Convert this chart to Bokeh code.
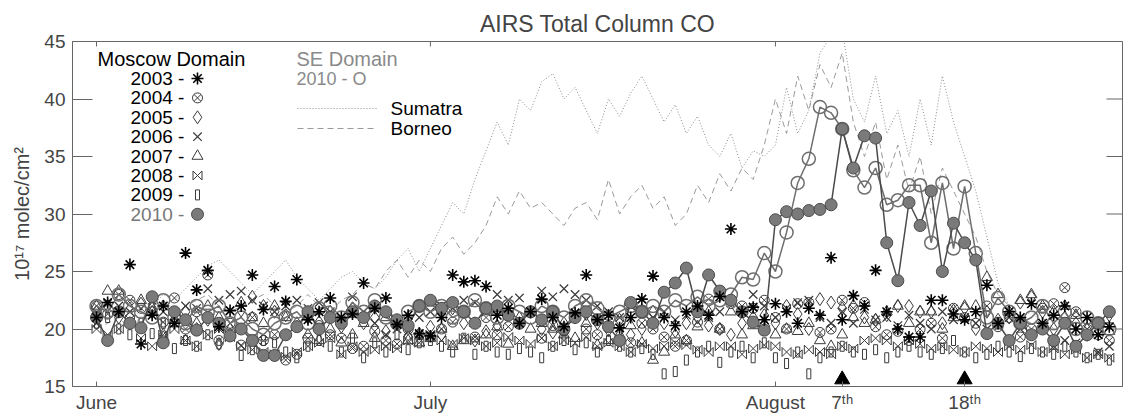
from bokeh.plotting import figure
from bokeh.models import Range1d, FixedTicker
from bokeh.embed import file_html
from bokeh.resources import INLINE
from bokeh.core.properties import value

FONT = "Liberation Sans"

# day index: 1 = June 1, 31 = July 1, 62 = August 1, 92 = August 31
days = list(range(1, 93))

moscow_2003 = [21.0, 22.3, 21.5, 25.6, 18.7, 21.2, 22.0, 20.5, 26.6, 23.4,
               25.1, 20.2, 21.6, 22.0, 24.7, 21.7, 23.7, 22.4, 24.3, 20.8,
               21.5, 22.7, 21.0, 21.3, 24.0, 21.8, 22.7, 20.4, 21.2, 19.6,
               19.4, 21.0, 24.7, 24.1, 24.2, 23.7, 21.2, 21.8, 20.5, 21.5,
               22.6, 21.0, 20.2, 21.4, 24.7, 20.8, 21.2, 20.1, 21.0, 22.6,
               24.6, 21.0, 20.3, 21.5, 22.0, 21.2, 22.8, 28.7, 21.5, 21.9,
               20.8, 22.2, 21.5, 20.5, 21.8, 21.2, 26.2, 20.8, 22.9, 22.0,
               25.1, 21.5, 20.0, 19.3, 19.3, 22.5, 22.5, 21.3, 20.8, 21.5,
               23.8, 20.5, 21.5, 21.0, 22.2, 20.5, 21.2, 22.0, 20.0, 21.0,
               19.5, 20.2]
moscow_2004 = [22.0, 21.3, 23.0, 22.5, 21.8, 21.5, 20.6, 22.7, 20.0, 21.5,
               24.7, 19.0, 20.5, 18.6, 21.0, 19.0, 19.5, 17.3, 17.8, 19.2,
               20.3, 19.5, 19.2, 18.3, 18.5, 19.8, 19.0, 18.7, 20.0, 19.5,
               19.3, 20.0, 20.6, 21.5, 19.3, 21.0, 19.5, 20.2, 20.5, 21.4,
               19.2, 20.3, 19.8, 21.0, 20.0, 19.5, 21.2, 19.0, 18.8, 20.5,
               20.0, 19.3, 18.5, 19.0, 20.6, 22.6, 20.0, 22.2, 22.0, 21.8,
               22.5, 21.0, 20.0, 22.2, 22.3, 19.7, 20.0, 22.5, 21.8, 22.3,
               20.2, 19.5, 19.8, 19.0, 20.0, 20.5, 19.2, 21.8, 21.0, 20.5,
               22.0, 20.2, 21.0, 19.3, 20.0, 21.8, 22.2, 23.6, 21.5, 20.0,
               19.5, 19.0]
moscow_2005 = [21.5, 22.0, 21.0, 20.5, 22.2, 21.8, 19.5, 20.8, 21.5, 20.0,
               20.8, 18.7, 19.5, 21.6, 22.8, 22.0, 21.5, 21.2, 20.5, 21.0,
               20.6, 21.5, 20.2, 21.8, 20.5, 21.0, 19.8, 20.4, 19.3, 19.6,
               20.2, 19.5, 21.8, 20.5, 19.0, 19.8, 20.3, 21.2, 20.5, 21.5,
               20.0, 19.7, 20.5, 21.0, 21.3, 20.5, 19.9, 20.8, 19.5, 20.0,
               21.5, 20.5, 19.8, 20.5, 21.0, 20.3, 20.0, 19.5, 20.5, 21.0,
               21.2, 20.5, 22.0, 21.3, 20.0, 22.6, 22.3, 21.8, 22.0, 21.0,
               20.8, 21.2, 22.0, 22.0, 21.5, 21.5, 20.5, 21.6, 21.8, 20.0,
               21.5, 20.8, 21.0, 22.3, 22.8, 21.5, 20.0, 21.0, 20.5, 19.5,
               20.5, 21.2]
moscow_2006 = [20.5, 22.2, 22.0, 21.5, 20.0, 22.5, 21.5, 21.0, 22.0, 21.8,
               23.5, 22.5, 23.0, 23.3, 22.5, 22.0, 21.5, 22.0, 22.5, 21.8,
               22.3, 21.5, 20.8, 22.8, 21.5, 20.5, 19.5, 20.0, 19.8, 21.0,
               21.5, 22.0, 21.8, 22.5, 22.3, 21.5, 23.0, 22.5, 22.7, 21.5,
               23.3, 22.8, 23.5, 23.0, 22.5, 22.0, 21.5, 21.0, 22.0, 21.5,
               21.0, 21.5, 20.8, 21.2, 22.0, 21.0, 21.5, 22.5, 21.5, 23.0,
               22.0, 21.0, 21.8, 22.3, 22.5, 21.0, 20.5, 21.5, 20.5, 21.7,
               20.8, 21.0, 20.3, 21.2, 20.5, 20.0, 21.5, 20.8, 21.0, 20.5,
               20.0, 20.5, 21.0, 20.0, 19.5, 20.3, 18.5, 19.0, 18.8, 19.5,
               18.0, 18.5]
moscow_2007 = [22.0, 23.3, 23.3, 21.8, 22.5, 21.5, 19.3, 20.5, 19.0, 20.5,
               22.0, 21.0, 20.0, 22.3, 21.0, 20.5, 22.0, 21.0, 20.2, 19.5,
               19.0, 20.0, 18.8, 19.5, 20.5, 19.2, 21.0, 20.5, 19.0, 18.8,
               19.2, 20.0, 18.5, 19.0, 20.5, 19.5, 20.2, 18.7, 21.0, 20.0,
               20.5, 20.0, 19.5, 19.2, 20.5, 18.6, 19.0, 19.5, 20.3, 18.8,
               17.3, 18.0, 19.5, 19.0, 20.2, 21.5, 20.0, 21.5, 19.5, 20.3,
               20.5, 19.5, 20.0, 19.8, 20.5, 19.0, 18.5, 19.5, 21.0, 20.5,
               20.8, 21.5, 22.0, 20.5, 21.5, 21.5, 20.0, 21.0, 22.0, 22.0,
               24.5, 23.0, 21.5, 22.5, 23.0, 22.0, 21.5, 22.0, 21.2, 20.0,
               20.5, 19.8]
moscow_2008 = [20.0, 19.5, 20.0, 20.8, 19.2, 18.5, 19.5, 20.0, 19.0, 18.5,
               19.5, 20.0, 19.3, 18.5, 18.2, 18.0, 17.8, 17.6, 18.0, 18.5,
               18.8, 19.2, 17.8, 18.5, 18.0, 18.2, 18.5, 18.3, 19.0, 18.8,
               19.5, 19.0, 18.7, 19.2, 19.0, 18.5, 18.8, 19.3, 19.0, 18.7,
               19.2, 18.5, 19.0, 18.8, 19.3, 18.5, 18.8, 18.5, 18.0, 18.7,
               18.3, 18.5, 18.8, 18.6, 18.2, 18.0, 18.5, 18.5, 17.8, 18.3,
               18.6, 18.5, 18.0, 17.8, 18.2, 18.0, 17.8, 18.5, 18.3, 19.0,
               19.2, 19.0, 18.5, 19.0, 18.7, 18.3, 18.5, 18.2, 18.0, 18.5,
               18.3, 18.0, 18.5, 18.2, 18.6, 18.0, 18.3, 17.8, 18.2, 17.5,
               17.8, 17.5]
moscow_2009 = [20.5, 21.0, 20.0, 19.5, 20.5, 19.6, 20.5, 18.3, 19.0, 18.5,
               19.5, 18.7, 19.5, 17.7, 18.2, 19.0, 18.8, 18.0, 17.5, 18.5,
               19.0, 18.5, 18.0, 19.2, 17.5, 18.8, 18.0, 19.5, 18.2, 18.8,
               19.0, 18.5, 18.0, 19.2, 17.8, 18.5, 18.0, 17.8, 18.3, 18.0,
               17.5, 18.5, 19.0, 18.2, 18.8, 18.0, 19.0, 18.5, 18.0, 18.3,
               17.8, 16.1, 16.3, 17.3, 18.0, 18.5, 17.1, 18.0, 18.5, 17.5,
               18.8, 17.5, 17.0, 18.0, 16.1, 17.5, 18.0, 18.5, 18.0, 17.8,
               18.2, 17.5, 18.0, 18.5, 18.0, 17.8, 18.3, 19.0, 18.0, 17.5,
               17.8, 18.5, 18.0, 17.6, 18.3, 18.0, 17.8, 18.5, 18.0, 17.5,
               17.8, 17.3]
moscow_2010 = [21.0, 19.0, 21.5, 20.5, 20.1, 22.8, 18.8, 21.5, 20.8, 19.9,
               21.0, 20.5, 19.4, 20.0, 19.0, 17.7, 17.7, 19.5, 20.2, 21.5,
               20.0, 21.0, 20.5, 21.5, 21.0, 22.0, 21.5, 20.8, 20.3, 22.0,
               22.5, 21.8, 22.3, 21.5, 20.5, 21.8, 22.0, 21.2, 20.5, 21.5,
               20.8, 21.5, 20.0, 21.0, 21.5, 20.8, 20.2, 19.0, 22.3, 21.5,
               20.5, 23.2, 24.0, 25.3, 21.5, 24.7, 23.3, 22.5, 21.5, 20.6,
               19.9, 29.5, 30.2, 30.0, 30.3, 30.4, 30.8, 37.4, 34.0, 36.8,
               36.6, 27.5, 24.2, 31.0, 29.0, 32.0, 25.0, 29.2, 27.5, 26.0,
               19.6, 20.5, 19.0, 20.5, 19.5, 20.0, 19.0, 20.5, 18.5, 19.5,
               20.5, 21.5]
se_2010 = [22.0, 21.5, 23.0, 22.0, 21.5, 21.0, 22.5, 21.0, 20.5, 22.0,
           21.5, 22.0, 20.5, 21.0, 20.0, 19.5, 20.5, 21.0, 21.5, 20.5,
           21.8, 22.0, 21.0, 22.3, 21.5, 22.5, 21.0, 20.5, 21.5, 22.0,
           21.5, 22.0, 21.0, 21.5, 22.5, 21.8, 21.0, 22.0, 21.5, 21.0,
           22.0, 21.5, 21.0, 22.0, 22.5, 21.8, 21.0, 21.5, 22.0, 21.5,
           22.0, 21.5, 22.5, 22.0, 22.8, 22.0, 22.5, 23.0, 24.5, 24.3,
           26.6, 25.0, 28.4, 32.7, 34.8, 39.3, 38.8, 37.4, 33.8, 32.3,
           34.0, 30.8, 31.2, 32.5, 32.5, 27.5, 32.7, 27.0, 32.4, 26.6,
           21.0, 22.7, 21.5, 20.5, 21.0, 22.0, 20.5, 21.5, 20.0, 21.0,
           20.5, 20.0]
sumatra = [20.5, 21.0, 21.5, 22.0, 21.0, 22.0, 23.0, 22.5, 23.5, 24.5,
           25.5, 26.0, 25.0, 24.0, 23.0, 24.0, 25.0, 26.0, 24.5, 23.5,
           22.5, 23.5, 24.5, 25.0, 24.0, 23.5, 24.5, 26.0, 27.0, 25.0,
           27.0, 29.0, 31.0, 30.0, 33.0, 35.5, 38.0, 36.0, 40.0, 39.0,
           41.5, 42.2, 40.0, 41.0, 39.0, 37.0, 40.0, 38.5, 40.5, 42.0,
           40.0, 38.0, 39.5, 37.0, 38.5, 36.0, 35.0, 37.0, 34.0, 35.5,
           35.0, 36.0, 41.0, 37.0, 39.0, 44.0, 45.5, 46.0, 40.0, 38.0,
           42.0, 37.0, 39.0, 35.0, 40.0, 36.0, 42.0, 38.0, 35.0, 32.0,
           28.0, 24.0, 22.0, 21.0, 21.5, 20.5, 21.0, 20.0, 21.5, 20.0,
           19.5, 20.0]
borneo = [20.0, 20.5, 21.0, 20.0, 21.0, 21.5, 20.5, 21.0, 22.0, 22.5,
          23.0, 22.0, 21.5, 22.0, 22.5, 23.0, 22.0, 21.5, 22.0, 23.0,
          22.0, 21.5, 22.5, 23.0, 24.0, 23.5, 25.0, 26.0, 24.5, 26.0,
          25.0, 27.0, 28.0, 26.5, 27.5, 29.0, 31.5, 30.0, 32.0, 30.5,
          31.0, 30.0, 29.0, 30.5, 31.0, 29.5, 33.0, 30.0, 31.5, 32.5,
          30.5, 31.5, 29.0, 30.0, 32.5, 31.0, 33.5, 32.0, 34.0, 33.0,
          36.0, 40.0, 37.0, 42.0, 39.0, 43.0, 41.0, 44.0, 38.0, 35.0,
          38.0, 33.0, 36.0, 32.0, 35.0, 30.0, 34.0, 32.0, 30.0, 28.0,
          25.0, 23.0, 22.0, 21.0, 20.5, 21.0, 20.0, 20.5, 19.5, 20.0,
          19.0, 19.5]

event_days = [68, 79]
event_labels = ["7ᵗʰ", "18ᵗʰ"]
month_days = [1, 31, 62]
month_labels = ["June", "July", "August"]
y_ticks = [15, 20, 25, 30, 35, 40, 45]
legend_years = ["2003", "2004", "2005", "2006", "2007", "2008", "2009", "2010"]

FW, FH, BL, BT = 1050, 345, 72, 41
PX_PER_DAY, PX_X_JUNE = 11.13, 96
X0 = 1 + (BL - PX_X_JUNE) / PX_PER_DAY
X1 = X0 + FW / PX_PER_DAY
Y0, Y1 = 15, 45

p = figure(frame_width=FW, frame_height=FH, x_range=Range1d(X0, X1), y_range=Range1d(Y0, Y1),
           output_backend="svg", toolbar_location=None,
           min_border_left=BL, min_border_top=BT, min_border_bottom=26, min_border_right=2,
           background_fill_color="white", border_fill_color="white")

# page pixel -> data helpers (legend placement only)
def dx(px):
    return X0 + (px - BL) * (X1 - X0) / FW
def dy(py):
    return Y1 - (py - BT) * (Y1 - Y0) / FH
UX = (X1 - X0) / FW   # data units per pixel, x
UY = (Y1 - Y0) / FH   # data units per pixel, y

p.grid.visible = False
p.outline_line_color = "#666666"

p.title.text = "AIRS Total Column CO"
p.title.align = "center"
p.title.text_font = FONT
p.title.text_font_size = "23px"
p.title.text_font_style = "normal"

xa = p.xaxis[0]
xa.ticker = FixedTicker(ticks=month_days + event_days)
xa.major_label_overrides = {d: l for d, l in zip(month_days + event_days, month_labels + event_labels)}
xa.major_tick_in = 5
xa.major_tick_out = 0
xa.minor_tick_line_color = None
xa.axis_line_color = "#666666"
xa.major_tick_line_color = "#666666"
xa.major_label_text_font = FONT
xa.major_label_text_font_size = "19px"
xa.major_label_standoff = 5

ya = p.yaxis[0]
ya.ticker = FixedTicker(ticks=y_ticks)
ya.major_tick_in = 20
ya.major_tick_out = 0
ya.minor_tick_line_color = None
ya.axis_line_color = "#666666"
ya.major_tick_line_color = "#666666"
ya.major_label_text_font = FONT
ya.major_label_text_font_size = "19px"
ya.major_label_standoff = 7
ya.axis_label = "10¹⁷ molec/cm²"
ya.axis_label_text_font = FONT
ya.axis_label_text_font_size = "20px"
ya.axis_label_text_font_style = "normal"
ya.axis_label_standoff = 8

# mirrored inward ticks on top and right frame edges
p.segment(x0=month_days, x1=month_days, y0=[Y1] * len(month_days), y1=[Y1 - 5 * UY] * len(month_days),
          line_color="#666666", line_width=1)
p.segment(x0=[X1] * len(y_ticks), x1=[X1 - 16 * UX] * len(y_ticks), y0=y_ticks, y1=y_ticks,
          line_color="#666666", line_width=1)

nan = float("nan")
def clean(v):
    return [nan if a is None else a for a in v]

# SE domain sub-regions
p.line(days, clean(sumatra), line_color="#8c8c8c", line_width=1, line_dash="1 2")
p.line(days, clean(borneo), line_color="#9a9a9a", line_width=1, line_dash="6 4")

MC = "#3a3a3a"
BW, BH = 4.5 * UX, 4.5 * UY

def bowtie(xs, ys):
    bx, by = [], []
    for x, y in zip(xs, ys):
        bx.append([x - BW, x + BW, x + BW, x - BW, x - BW])
        by.append([y - BH, y + BH, y - BH, y + BH, y - BH])
    return bx, by

def draw_year(i, xs, ys):
    if i == 0:
        p.scatter(xs, ys, marker="asterisk", size=12, line_color="black", line_width=1.6)
    elif i == 1:
        p.scatter(xs, ys, marker="circle_x", size=10, line_color=MC, fill_color=None, line_width=1)
    elif i == 2:
        p.scatter(xs, ys, marker="diamond", size=13, line_color=MC, fill_color=None, line_width=1)
    elif i == 3:
        p.scatter(xs, ys, marker="x", size=12, line_color=MC, line_width=1.2)
    elif i == 4:
        p.scatter(xs, ys, marker="triangle", size=11, line_color=MC, fill_color=None, line_width=1)
    elif i == 5:
        bx, by = bowtie(xs, ys)
        p.multi_line(bx, by, line_color=MC, line_width=1)
    elif i == 6:
        p.rect(xs, ys, width=4, height=10, width_units="screen", height_units="screen",
               fill_color=None, line_color=MC, line_width=1)
    elif i == 7:
        p.scatter(xs, ys, marker="circle", size=12, fill_color="#7a7a7a", line_color="#4a4a4a", line_width=1)

series = [moscow_2003, moscow_2004, moscow_2005, moscow_2006, moscow_2007, moscow_2008, moscow_2009]
for i in [6, 5, 4, 3, 2, 1]:
    draw_year(i, days, clean(series[i]))

# SE domain 2010 (open circles with line)
p.line(days, clean(se_2010), line_color="#6e6e6e", line_width=1.5)
p.scatter(days, clean(se_2010), marker="circle", size=13, fill_color=None, line_color="#6e6e6e", line_width=1.5)
# Moscow 2010 (filled circles with line)
p.line(days, clean(moscow_2010), line_color="#4a4a4a", line_width=1.5)
draw_year(7, days, clean(moscow_2010))
draw_year(0, days, clean(moscow_2003))

# event markers on the axis
p.scatter(event_days, [Y0 + 7 * UY] * len(event_days), marker="triangle", size=15, color="black")

# ---- legend (text + symbols) ----
p.text([dx(97)], [dy(58)], text=["Moscow Domain"], text_font=value(FONT), text_font_size="20px",
       text_baseline="middle", text_color="black")
ly = [dy(78 + 19.4 * k) for k in range(len(legend_years))]
p.text([dx(130)] * len(legend_years), ly, text=[y + " -" for y in legend_years],
       text_font=value(FONT), text_font_size="19px", text_baseline="middle",
       text_color=["black"] * 7 + ["#777777"])
for k in range(len(legend_years)):
    draw_year(k, [dx(197)], [ly[k]])

p.text([dx(296)], [dy(58)], text=["SE Domain"], text_font=value(FONT), text_font_size="20px",
       text_baseline="middle", text_color="#8a8a8a")
p.text([dx(296)], [dy(78)], text=["2010 - O"], text_font=value(FONT), text_font_size="18px",
       text_baseline="middle", text_color="#8a8a8a")
p.line([dx(297), dx(377)], [dy(108)] * 2, line_color="#8c8c8c", line_width=1, line_dash="1 2")
p.line([dx(297), dx(377)], [dy(128)] * 2, line_color="#9a9a9a", line_width=1, line_dash="6 4")
p.text([dx(390), dx(390)], [dy(108), dy(128)], text=["Sumatra", "Borneo"], text_font=value(FONT),
       text_font_size="19px", text_baseline="middle", text_color="black")

open("out.html", "w").write(file_html(p, INLINE))
